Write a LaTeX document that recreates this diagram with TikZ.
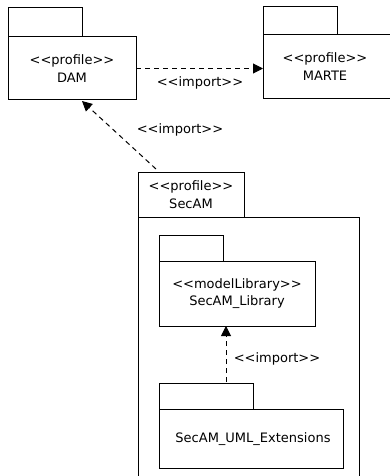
\documentclass[tikz,border=0pt]{standalone}
\usepackage{fontspec}
\setmainfont{DejaVu Sans}[Ligatures=TeXOff]
\usetikzlibrary{arrows.meta,calc}
\begin{document}
\begin{tikzpicture}[x=1pt,y=-1pt,
  every node/.style={font=\fontsize{13}{17.5}\selectfont},
  box/.style={draw,line width=1pt,rectangle,inner sep=0pt,outer sep=0pt,align=center},
  imp/.style={draw,line width=1pt,dash pattern=on 5pt off 4pt,-{Triangle[length=10pt,width=10pt]}},
  lbl/.style={inner sep=0pt}]
\useasboundingbox (0,0) rectangle (389,476);
% DAM package
\node[box,minimum width=74pt,minimum height=29pt] (damtab) at (45,22.5) {};
\node[box,minimum width=128pt,minimum height=63pt] (dam) at (72,68.5) {<<profile>>\\DAM};
% MARTE package
\node[box,minimum width=74pt,minimum height=28pt] (martetab) at (300,21) {};
\node[box,minimum width=128pt,minimum height=64pt] (marte) at (327,67) {};
\node (martetext) at (325,66.5) [align=center,inner sep=0pt] {<<profile>>\\MARTE};
% SecAM package: name tab on top, open-ended body below
\node[box,minimum width=106pt,minimum height=45pt] (secamtab) at (191,194.5) {<<profile>>\\SecAM};
\coordinate (secambl) at (secamtab.south west |- 0,480);
\coordinate (secamtr) at (359,217);
\draw[line width=1pt] (secambl) -- (secamtab.south west) -- (secamtr) -- (secamtr |- secambl);
% SecAM_Library package
\node[box,minimum width=64pt,minimum height=26pt] (libtab) at (191,248) {};
\node[box,minimum width=156pt,minimum height=65pt] (lib) at (237,293.5) {<<modelLibrary>>\\SecAM\_Library};
% SecAM_UML_Extensions package
\node[box,minimum width=94pt,minimum height=26pt] (exttab) at (206,396) {};
\node[box,minimum width=184pt,minimum height=59pt] (ext) at (251,438.5) {};
\node (exttext) at (253,439.5) [inner sep=0pt] {SecAM\_UML\_Extensions};
% import dependencies
\coordinate (secamtop) at (156,169);
\coordinate (damtip) at (82,101);
\coordinate (extstart) at (226,382);
\draw[imp] (dam.east) -- (dam.east -| marte.west);
\draw[imp] (secamtop) -- (damtip);
\draw[imp] (extstart) -- (extstart |- lib.south);
\node[lbl] (l1) at (200,83) {<<import>>};
\node[lbl] (l2) at (180,130) {<<import>>};
\node[lbl] (l3) at (277,359) {<<import>>};
\end{tikzpicture}
\end{document}
